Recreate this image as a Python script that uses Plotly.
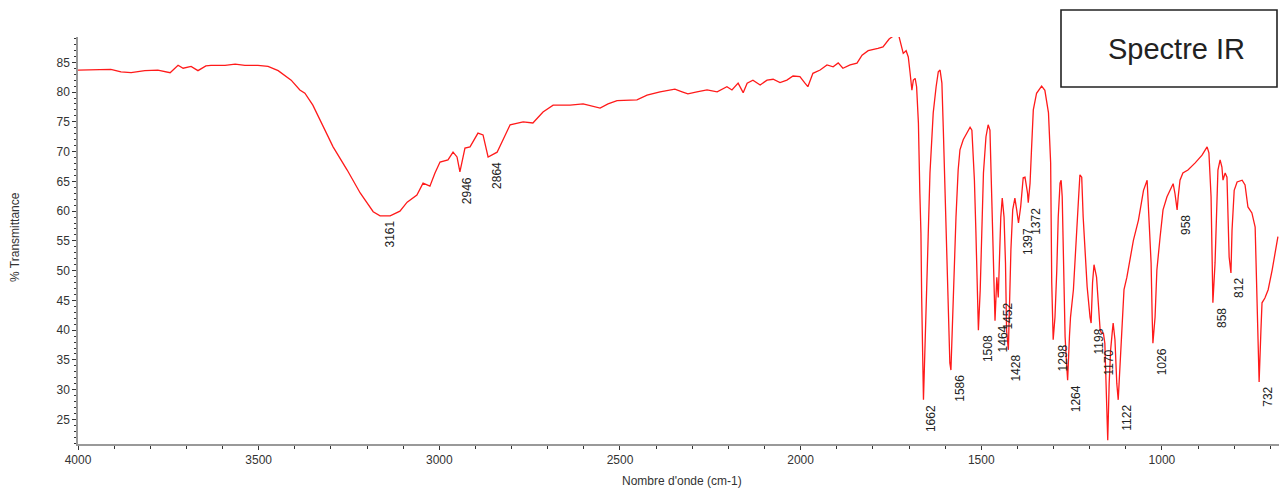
import plotly.graph_objects as go

# Wavenumber (cm-1) and % transmittance
wavenumber = [
    4000, 3953, 3909, 3881, 3853, 3815, 3779, 3745, 3723, 3709, 3687, 3668, 3646, 3632, 3593,
    3565, 3538, 3502, 3474, 3446, 3410, 3386, 3372, 3350, 3316, 3294, 3255, 3219, 3183, 3164,
    3136, 3109, 3089, 3062, 3045, 3026, 3012, 2998, 2976, 2962, 2951, 2943, 2929, 2915, 2893,
    2879, 2865, 2840, 2804, 2768, 2741, 2713, 2685, 2638, 2602, 2575, 2555, 2533, 2508, 2453,
    2425, 2389, 2348, 2328, 2312, 2287, 2259, 2231, 2204, 2190, 2173, 2159, 2148, 2132, 2112,
    2093, 2076, 2057, 2038, 2021, 2002, 1988, 1980, 1966, 1946, 1927, 1910, 1896, 1883, 1863,
    1844, 1830, 1813, 1786, 1772, 1755, 1744, 1728, 1722, 1716, 1708, 1702, 1697, 1692, 1688,
    1683, 1679, 1674, 1670, 1667, 1665, 1662, 1660, 1656, 1651, 1647, 1642, 1637, 1633, 1625,
    1619, 1614, 1609, 1605, 1600, 1596, 1591, 1587, 1584, 1580, 1575, 1570, 1564, 1559, 1550,
    1540, 1531, 1526, 1519, 1515, 1511, 1508, 1503, 1499, 1494, 1487, 1481, 1476, 1471, 1467,
    1462, 1457, 1453, 1450, 1446, 1442, 1437, 1433, 1430, 1425, 1422, 1418, 1413, 1407, 1402,
    1397, 1391, 1384, 1379, 1372, 1370, 1365, 1361, 1356, 1347, 1333, 1324, 1314, 1308, 1305,
    1301, 1296, 1291, 1287, 1282, 1279, 1276, 1273, 1268, 1264, 1261, 1256, 1253, 1245, 1238,
    1231, 1227, 1222, 1218, 1210, 1207, 1199, 1196, 1192, 1188, 1181, 1176, 1171, 1167, 1162,
    1158, 1153, 1150, 1146, 1142, 1137, 1135, 1130, 1125, 1121, 1116, 1111, 1105, 1097, 1088,
    1079, 1065, 1051, 1041, 1036, 1030, 1027, 1025, 1019, 1014, 1005, 997, 986, 972, 969,
    964, 958, 955, 950, 942, 928, 908, 889, 875, 870, 864, 861, 859, 853, 848,
    845, 839, 834, 831, 825, 820, 817, 814, 809, 806, 800, 792, 778, 770, 762,
    751, 742, 737, 734, 731, 726, 723, 715, 706, 695, 687, 679,
]
transmittance = [
    83.7, 83.7, 83.8, 83.4, 83.25, 83.6, 83.7, 83.25, 84.5, 84.0, 84.3, 83.6, 84.4, 84.5, 84.5,
    84.7, 84.5, 84.5, 84.3, 83.6, 82.0, 80.35, 79.8, 77.8, 73.6, 70.8, 66.9, 63.05, 59.9, 59.2,
    59.2, 60.0, 61.5, 62.7, 64.7, 64.2, 66.4, 68.25, 68.6, 69.9, 69.1, 66.6, 70.6, 70.8, 73.1,
    72.8, 69.1, 69.9, 74.5, 75.0, 74.8, 76.65, 77.8, 77.8, 78.0, 77.65, 77.3, 78.0, 78.55, 78.7,
    79.5, 80.05, 80.5, 80.05, 79.7, 80.05, 80.35, 80.05, 80.9, 80.35, 81.5, 79.9, 81.5, 82.0, 81.2,
    82.0, 82.15, 81.6, 82.0, 82.7, 82.6, 81.5, 80.9, 83.15, 83.7, 84.55, 84.25, 84.9, 84.0, 84.55,
    84.85, 86.2, 86.95, 87.35, 87.6, 88.9, 89.4, 89.4, 88.0, 86.5, 86.95, 85.9, 83.2, 80.3, 82.0,
    82.3, 80.9, 74.8, 63.0, 56.3, 45.6, 36.7, 28.3, 36.7, 45.6, 55.7, 66.4, 72.0, 76.5, 80.9,
    83.4, 83.7, 81.5, 73.6, 62.4, 51.3, 42.9, 34.5, 33.3, 41.2, 51.3, 59.0, 66.9, 70.3, 72.0,
    73.1, 74.1, 73.6, 65.2, 56.8, 48.9, 40.0, 46.7, 56.8, 66.4, 72.5, 74.5, 73.6, 63.5, 54.6,
    41.6, 48.9, 45.5, 51.3, 59.0, 62.2, 59.0, 51.3, 40.0, 36.7, 45.1, 53.5, 60.2, 62.2, 60.2,
    58.0, 60.7, 65.6, 65.7, 63.0, 61.4, 64.7, 70.3, 77.0, 79.8, 81.0, 80.3, 76.5, 68.1, 48.0,
    38.4, 42.2, 50.1, 59.0, 64.7, 65.2, 62.4, 53.5, 38.9, 34.5, 31.6, 38.9, 42.2, 46.8, 53.5,
    61.9, 66.1, 65.7, 59.0, 51.8, 47.3, 42.2, 41.2, 48.0, 51.0, 48.9, 45.1, 40.0, 39.5, 39.5,
    37.8, 25.4, 21.5, 31.1, 36.7, 40.0, 41.2, 38.4, 31.1, 28.3, 33.8, 41.2, 46.8, 48.9, 52.3,
    55.1, 58.5, 63.5, 65.2, 59.7, 51.3, 42.2, 37.8, 42.2, 50.1, 55.7, 60.2, 62.4, 64.4, 64.6,
    63.0, 60.2, 62.4, 65.2, 66.4, 66.9, 68.1, 69.4, 70.8, 69.8, 62.4, 51.3, 44.6, 51.3, 62.4,
    66.9, 68.6, 67.4, 65.2, 66.4, 65.7, 59.7, 52.3, 49.6, 56.8, 63.5, 64.9, 65.2, 64.4, 60.7,
    59.7, 57.3, 45.6, 34.5, 31.3, 40.0, 44.6, 45.4, 46.8, 50.1, 53.0, 55.7,
]

# Peak labels
peak_wn = [3161, 2946, 2864, 1662, 1586, 1508, 1464, 1452, 1428, 1397, 1372,
           1298, 1264, 1198, 1170, 1122, 1026, 958, 858, 812, 732]
peak_T = [59.2, 66.6, 69.1, 28.3, 33.3, 40.0, 41.6, 45.5, 36.7, 58.0, 61.4,
          38.4, 31.6, 41.2, 37.5, 28.3, 37.8, 60.2, 44.6, 49.6, 31.3]
peak_text = [str(w) for w in peak_wn]

x_ticks = [4000, 3500, 3000, 2500, 2000, 1500, 1000]
y_ticks = [25, 30, 35, 40, 45, 50, 55, 60, 65, 70, 75, 80, 85]

FONT = "Arial, Liberation Sans, sans-serif"

fig = go.Figure()
fig.add_trace(go.Scatter(
    x=wavenumber, y=transmittance, mode="lines",
    line=dict(color="#ff1a1a", width=1.3), hoverinfo="skip", showlegend=False,
))

annotations = []
for w, t, s in zip(peak_wn, peak_T, peak_text):
    annotations.append(dict(
        x=w, y=t, xref="x", yref="y", text=s, showarrow=False, textangle=-90,
        xanchor="center", yanchor="top", xshift=9, yshift=-3,
        font=dict(family=FONT, size=12, color="#222222"),
    ))

annotations.append(dict(
    x=-0.0525, y=0.5086, xref="paper", yref="paper", text="% Transmittance",
    showarrow=False, textangle=-90, xanchor="center", yanchor="middle",
    font=dict(family=FONT, size=12, color="#333333"),
))
annotations.append(dict(
    x=0.503, y=-0.091, xref="paper", yref="paper", text="Nombre d'onde (cm-1)",
    showarrow=False, xanchor="center", yanchor="middle",
    font=dict(family=FONT, size=12, color="#333333"),
))
annotations.append(dict(
    x=(1176 - 78) / 1201, y=(444 - 49) / 407, xref="paper", yref="paper", text="Spectre IR",
    showarrow=False, xanchor="center", yanchor="middle",
    font=dict(family=FONT, size=29, color="#222222"),
))

fig.add_shape(
    type="rect", xref="paper", yref="paper",
    x0=(1061 - 78) / 1201, x1=(1277 - 78) / 1201,
    y0=(444 - 87) / 407, y1=(444 - 10) / 407,
    line=dict(color="#222222", width=1.6), fillcolor="white", layer="above",
)

fig.update_layout(
    width=1279, height=490,
    margin=dict(l=78, r=0, t=37, b=46),
    paper_bgcolor="white", plot_bgcolor="white",
    annotations=annotations,
    showlegend=False,
    font=dict(family=FONT, size=12, color="#333333"),
)
fig.update_xaxes(
    range=[4000, 676], tickvals=x_ticks, ticktext=[str(v) for v in x_ticks],
    showgrid=False, zeroline=False, showline=True, linecolor="#999999", linewidth=1.5,
    ticks="outside", ticklen=4, tickcolor="#333333", tickwidth=1,
    minor=dict(dtick=100, ticks="outside", ticklen=3, tickcolor="#333333", showgrid=False),
    tickfont=dict(family=FONT, size=12, color="#333333"),
)
fig.update_yaxes(
    range=[20.88, 89.25], tickvals=y_ticks, ticktext=[str(v) for v in y_ticks],
    showgrid=False, zeroline=False, showline=True, linecolor="#999999", linewidth=1.5,
    ticks="outside", ticklen=4, tickcolor="#333333", tickwidth=1,
    minor=dict(dtick=1, ticks="outside", ticklen=2, tickcolor="#333333", showgrid=False),
    tickfont=dict(family=FONT, size=12, color="#333333"),
)

# remove the default page margin so the 1279x490 figure fills the window exactly
fig.write_html(
    "out.html",
    config={"displayModeBar": False},
    post_script="document.body.style.margin='0';document.body.style.overflow='hidden';",
)
